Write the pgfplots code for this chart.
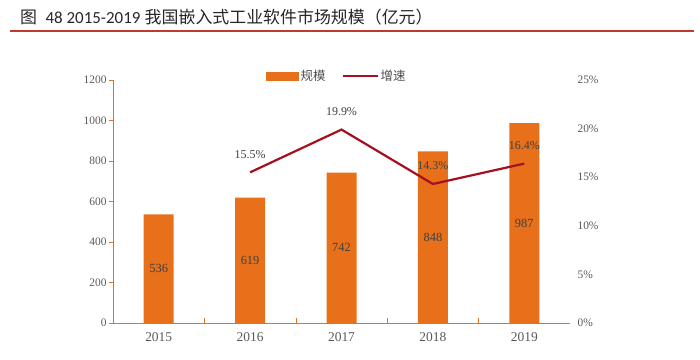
\documentclass[border=0pt]{standalone}
\usepackage{pgfplots}
\pgfplotsset{compat=1.18}
\usepackage{pgfplotstable}
\usepackage{fontspec}
\setmainfont{Liberation Serif}
\newfontfamily\cjk{Noto Sans CJK SC}
\newfontfamily\calib{Carlito}
\definecolor{barorange}{HTML}{E8701A}
\definecolor{linered}{HTML}{A50F1E}
\definecolor{titlered}{HTML}{C0392B}
\definecolor{ticktext}{HTML}{595959}
\pgfplotstableread{
x v
0 536
1 619
2 742
3 848
4 987
}\scale
\pgfplotstableread{
x g
1 15.5
2 19.9
3 14.3
4 16.4
}\growth
\begin{document}
\begin{tikzpicture}
\useasboundingbox (0bp,0bp) rectangle (700bp,360bp);
\draw[titlered, line width=1.3bp] (10bp,329bp) -- (694bp,329bp);
\node[anchor=base west, inner sep=0pt, font=\fontsize{17}{20}\selectfont, text=black!85] at (20bp,336bp) {{\cjk 图}\ \ {\calib 48 2015-2019} {\cjk 我国嵌入式工业软件市场规模（亿元）}};
\begin{axis}[
  at={(113bp,37bp)}, anchor=south west,
  scale only axis, width=457bp, height=243bp,
  xmin=-0.5, xmax=4.5, ymin=0, ymax=1200,
  axis x line*=bottom, axis y line*=left,
  axis line style={barorange, line width=0.8bp},
  xtick={0,1,2,3,4}, xticklabels={2015,2016,2017,2018,2019},
  major x tick style={draw=none},
  minor xtick={0.5,1.5,2.5,3.5},
  minor tick length=5bp,
  minor x tick style={barorange, line width=0.6bp},
  ytick={0,200,...,1200},
  major tick length=4bp,
  y tick style={barorange, line width=0.6bp, xshift=-4bp},
  /pgf/number format/1000 sep={},
  yticklabel style={font=\fontsize{11.5}{14}\selectfont, text=ticktext, xshift=-3bp},
  xticklabel style={font=\fontsize{13.5}{15}\selectfont, text=ticktext, yshift=-6bp},
  /pgf/number format/assume math mode=true,
  clip=false,
]
\addplot[ybar, bar width=30bp, fill=barorange, draw=none, bar shift=0pt] table[x=x, y=v] {\scale};
\addplot[draw=none, mark=none, nodes near coords, point meta=\thisrow{v},
  every node near coord/.append style={anchor=center, font=\fontsize{12.5}{14}\selectfont, text=black!75, inner sep=0pt}]
  table[x=x, y expr=\thisrow{v}/2] {\scale};
\end{axis}
\begin{axis}[
  at={(113bp,37bp)}, anchor=south west,
  scale only axis, width=457bp, height=243bp,
  xmin=-0.5, xmax=4.5, ymin=0, ymax=25,
  axis x line=none, axis y line*=right,
  y axis line style={draw=none},
  xtick=\empty,
  ytick={0,5,...,25},
  yticklabel={\pgfmathprintnumber{\tick}\%},
  major tick length=0pt,
  tick label style={font=\fontsize{11.5}{14}\selectfont, text=ticktext},
  yticklabel style={xshift=4bp},
  /pgf/number format/assume math mode=true,
  clip=false,
  legend style={at={(0.49,1.016)}, anchor=center, draw=none, fill=none,
    legend columns=2, font=\cjk\fontsize{12.5}{14}\selectfont, text=black!70,
    /tikz/every even column/.append style={column sep=14bp}},
  legend cell align=left,
]
\addlegendimage{legend image code/.code={\fill[barorange] (0bp,-4bp) rectangle (32bp,4bp);}}
\addlegendentry{规模}
\addplot[linered, line width=2.2bp, mark=none,
  legend image code/.code={\draw[linered, line width=2bp] (0bp,0bp) -- (35bp,0bp);},
  nodes near coords={\pgfmathprintnumber[fixed,precision=1,fixed zerofill]{\pgfplotspointmeta}\%},
  point meta=\thisrow{g},
  every node near coord/.append style={anchor=south, yshift=13bp, inner sep=0pt, font=\fontsize{12}{14}\selectfont, text=black!75, /pgf/number format/assume math mode=true}]
  table[x=x, y=g] {\growth};
\addlegendentry{增速}
\end{axis}
\end{tikzpicture}
\end{document}
